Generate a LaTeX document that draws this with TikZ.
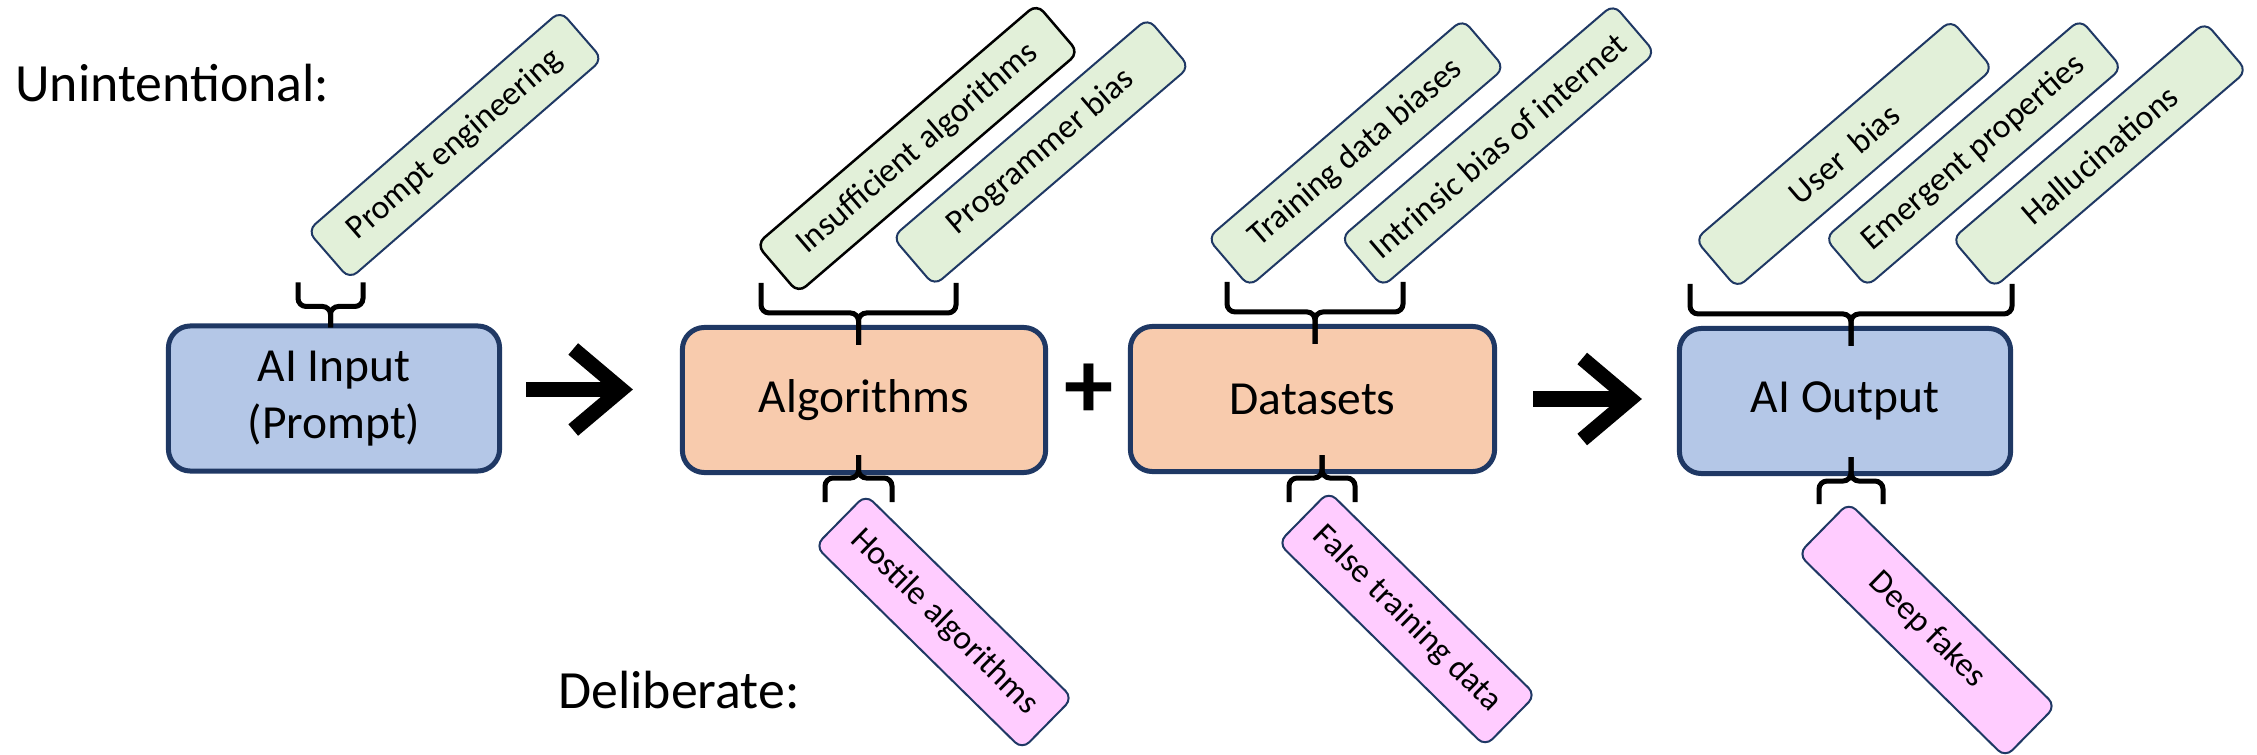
\documentclass[tikz,border=0pt]{standalone}
\usepackage{fontspec}
\setmainfont{Carlito}
\usetikzlibrary{calc,arrows.meta}
\definecolor{navy}{HTML}{1F3864}
\definecolor{stageblue}{HTML}{B4C7E7}
\definecolor{stageorange}{HTML}{F8CBAD}
\definecolor{unintgreen}{HTML}{E2F0D9}
\definecolor{delibpink}{HTML}{FFCCFF}
\tikzstyle{stage} = [draw=navy, line width=0.05cm, rounded corners=0.22cm,
                     align=center, minimum height=1.45cm,
                     font=\fontsize{13.5}{16.2}\selectfont]
\tikzstyle{stageb} = [stage, fill=stageblue]
\tikzstyle{stageo} = [stage, fill=stageorange]
\tikzstyle{cause} = [draw=navy, line width=0.02cm, rounded corners=0.1cm,
                     inner sep=0pt, font=\fontsize{9.6}{11}\selectfont]
\tikzstyle{unint} = [cause, fill=unintgreen, minimum height=0.64cm, rotate=40.6]
\tikzstyle{delib} = [cause, fill=delibpink, minimum height=0.72cm,
                     minimum width=2.9cm, rotate=-44.5]
\tikzstyle{heading} = [anchor=base west, font=\fontsize{15.3}{18}\selectfont]
\tikzstyle{brc} = [line width=0.05cm, rounded corners=0.08cm]
\tikzstyle{flow} = [line width=0.15cm, -{Straight Barb[length=0.48cm, width=0.81cm]}]
% brace: anchor, shift of the cusp, half width, arm end, bar, cusp tip
\newcommand{\tagbrace}[6]{%
  \draw[brc] ($(#1)+(#2-#3,#4)$) |- ($(#1)+(#2,#5)$) -- ($(#1)+(#2,#6)$);
  \draw[brc] ($(#1)+(#2+#3,#4)$) |- ($(#1)+(#2,#5)$) -- ($(#1)+(#2,#6)$);}

\begin{document}
\begin{tikzpicture}[x=0.01cm, y=-0.01cm]
  \useasboundingbox (0,0) rectangle (2257,755);
  \node[heading] (unintentional) at (3,102) {Unintentional:};
  \node[heading] (deliberate) at (546,708) {Deliberate:};
  % the four stages
  \node[stageb, minimum width=3.31cm] (inp) at (334,398.5) {AI Input\\(Prompt)};
  \node[stageo, minimum width=3.63cm] (alg) at (864,400) {Algorithms};
  \node[stageo, minimum width=3.64cm] (dat) at (1312.5,399) {Datasets};
  \node[stageb, minimum width=3.31cm] (out) at (1845,401) {AI Output};
  \node[font=\fontsize{28}{30}\selectfont\bfseries] (plus) at (1089,391) {+};
  \draw[flow] ($(inp.east)+(24,-9)$) -- ($(alg.west)+(-47,-10.5)$);
  \draw[flow] ($(dat.east)+(36,0)$) -- ($(out.west)+(-35,-2)$);
  % unintentional
  \node[unint, minimum width=3.35cm, rotate=0.4] (pe) at (455,145) {Prompt engineering};
  \node[unint, minimum width=3.69cm, draw=black, line width=0.025cm] (ia) at (917.5,148.5) {Insufficient algorithms};
  \node[unint, minimum width=3.36cm] (pb) at (1041,152) {Programmer bias};
  \node[unint, minimum width=3.36cm] (td) at (1356,153) {Training data biases};
  \node[unint, minimum width=3.59cm] (ib) at (1498,145.5) {Intrinsic bias of internet};
  \node[unint, minimum width=3.37cm] (ub) at (1844,154) {User~ bias};
  \node[unint, minimum width=3.36cm] (ep) at (1973.5,153) {Emergent properties};
  \node[unint, minimum width=3.33cm] (ha) at (2099.5,155) {Hallucinations};
  % deliberate
  \node[delib] (hs) at (944,622) {Hostile algorithms};
  \node[delib] (ft) at (1407,619) {False training data};
  \node[delib] (df) at (1927,630) {Deep fakes};
  % braces
  \tagbrace{inp.north}{-3.5}{32.5}{-41}{-17}{4}
  \tagbrace{alg.north}{-5.5}{97.5}{-42}{-12}{20}
  \tagbrace{dat.north}{2.5}{88}{-42}{-12}{20}
  \tagbrace{out.north}{6}{161}{-42}{-12}{20}
  \tagbrace{alg.south}{-5.5}{33.5}{27}{3}{-20}
  \tagbrace{dat.south}{9.5}{33}{28}{4}{-19}
  \tagbrace{out.south}{6}{32}{28}{5}{-19}
\end{tikzpicture}
\end{document}
